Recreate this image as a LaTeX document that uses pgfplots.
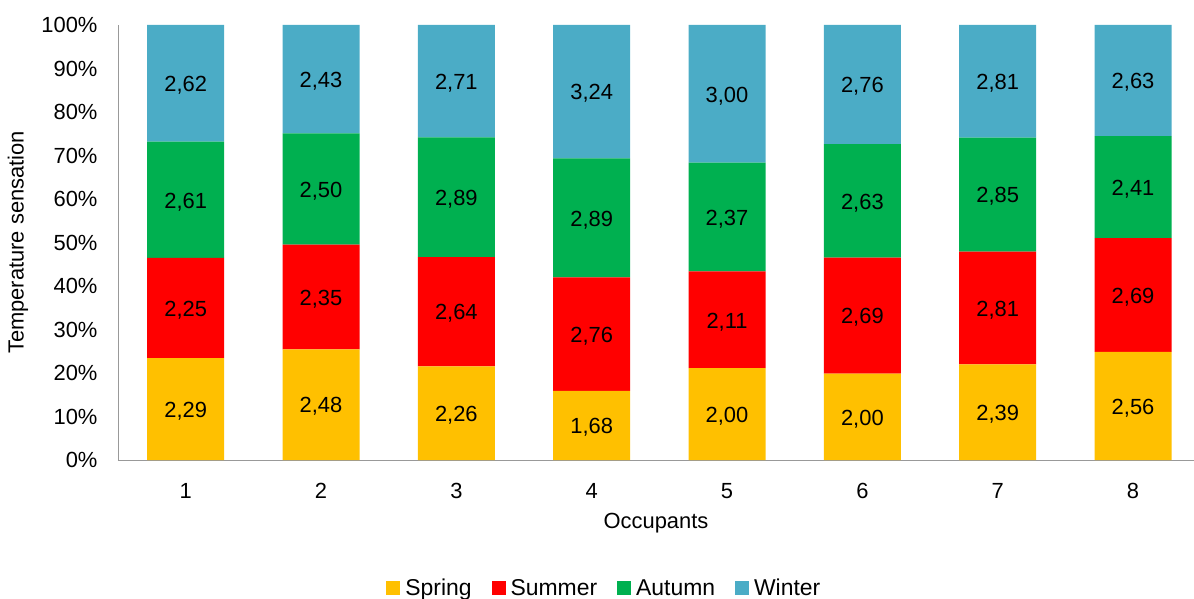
\documentclass[border=0pt]{standalone}
\usepackage{pgfplots}
\pgfplotsset{compat=1.18}
\usepackage{fontspec}
\setmainfont{Liberation Sans}
\definecolor{cspring}{HTML}{FFC000}
\definecolor{csummer}{HTML}{FF0000}
\definecolor{cautumn}{HTML}{00B050}
\definecolor{cwinter}{HTML}{4BACC6}
\begin{document}
\begin{tikzpicture}
\begin{axis}[
  scale only axis,
  width=1076bp, height=435bp,
  ybar stacked,
  bar width=77bp,
  xmin=0.5, xmax=8.45,
  ymin=0, ymax=100,
  xtick={1,...,8},
  ytick={0,10,...,100},
  yticklabel={\pgfmathprintnumber{\tick}\%},
  /pgf/number format/assume math mode=true,
  major tick length=0pt,
  axis x line*=bottom, axis y line*=left,
  axis line style={draw=gray!80, line width=1pt},
  ticklabel style={font=\fontsize{22}{26}\selectfont},
  yticklabel style={xshift=-17bp},
  xticklabel style={yshift=-20bp},
  xlabel={Occupants}, ylabel={Temperature sensation},
  every axis x label/.style={at={(rel axis cs:0.5,0)}, anchor=center, yshift=-63bp, font=\fontsize{22}{26}\selectfont},
  every axis y label/.style={at={([xshift=-100bp]rel axis cs:0,0.5)}, rotate=90, anchor=center, font=\fontsize{22}{26}\selectfont},
  point meta=explicit symbolic,
  nodes near coords,
  every node near coord/.append style={font=\fontsize{22}{26}\selectfont, black, anchor=center, yshift=-2bp},
  legend style={at={(0.452,-0.294)}, anchor=center, draw=none, legend columns=4,
    font=\fontsize{23}{27}\selectfont, column sep=18bp,
    /tikz/every odd column/.style={column sep=3bp}},
  legend image code/.code={\fill[#1] (0bp,-7bp) rectangle (14bp,7bp);},
  legend cell align=left,
]
\addplot[fill=cspring, draw=none] table[x=x,y=y,meta=l] {
x y l
1 23.44 2,29
2 25.41 2,48
3 21.52 2,26
4 15.89 1,68
5 21.10 2,00
6 19.84 2,00
7 22.01 2,39
8 24.88 2,56
};
\addplot[fill=csummer, draw=none] table[x=x,y=y,meta=l] {
x y l
1 23.03 2,25
2 24.08 2,35
3 25.14 2,64
4 26.11 2,76
5 22.26 2,11
6 26.69 2,69
7 25.87 2,81
8 26.14 2,69
};
\addplot[fill=cautumn, draw=none] table[x=x,y=y,meta=l] {
x y l
1 26.71 2,61
2 25.61 2,50
3 27.52 2,89
4 27.34 2,89
5 25.00 2,37
6 26.09 2,63
7 26.24 2,85
8 23.42 2,41
};
\addplot[fill=cwinter, draw=none] table[x=x,y=y,meta=l] {
x y l
1 26.82 2,62
2 24.90 2,43
3 25.82 2,71
4 30.66 3,24
5 31.64 3,00
6 27.38 2,76
7 25.88 2,81
8 25.56 2,63
};
\legend{Spring,Summer,Autumn,Winter}
\end{axis}
\pgfresetboundingbox
\path[use as bounding box] (current axis.south west) ++(-118bp,-139bp) rectangle ++(1194bp,599bp);
\end{tikzpicture}
\end{document}
